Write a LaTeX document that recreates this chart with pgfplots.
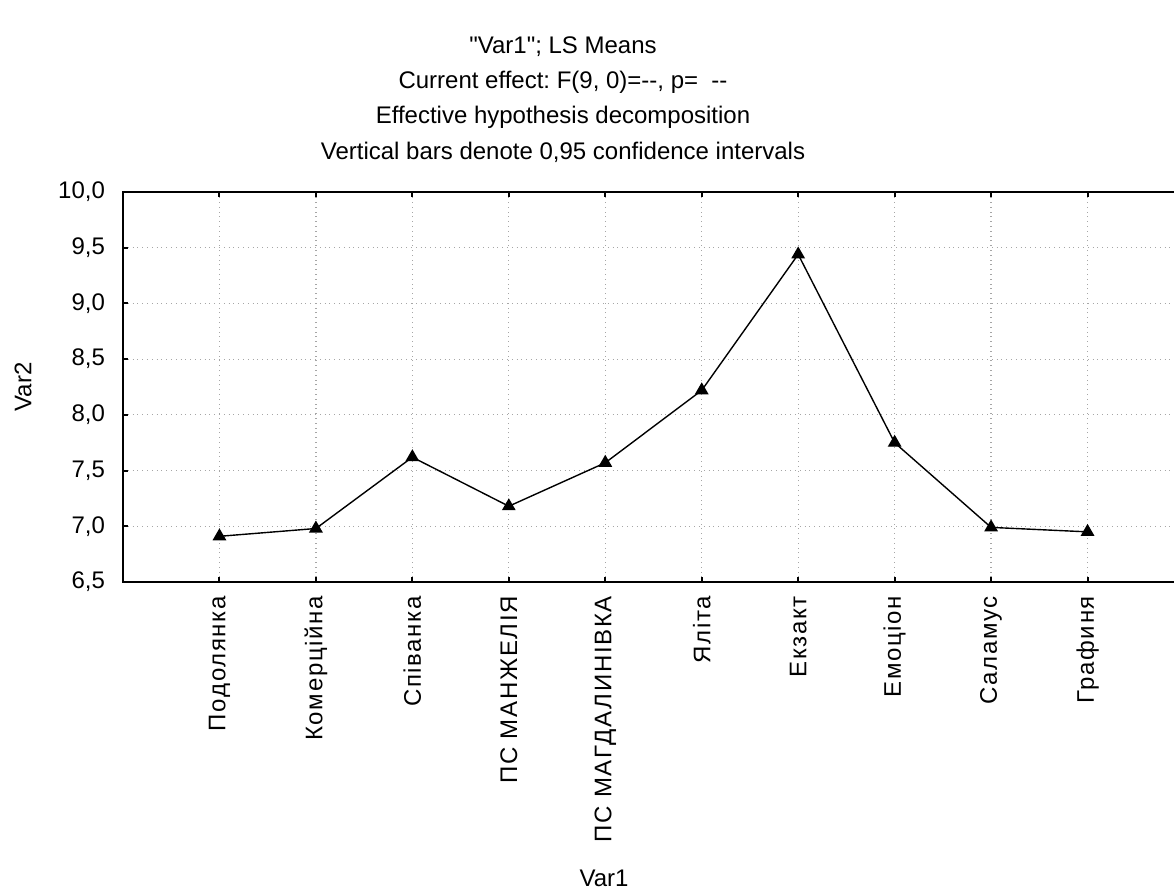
\documentclass[border=0pt]{standalone}
\usepackage{fontspec}
\setmainfont{Liberation Sans}
\newfontfamily\rawfont{Liberation Sans}
\usepackage{pgfplots}
\pgfplotsset{compat=1.18}
\frenchspacing
\begin{document}
\begin{tikzpicture}
\useasboundingbox (-61.5pt,-155pt) rectangle (525.5pt,291pt);
\clip (-61.5pt,-155pt) rectangle (525.5pt,291pt);
\begin{axis}[
  at={(0pt,0pt)}, anchor=south west,
  scale only axis, width=530.5pt, height=195pt,
  xmin=0, xmax=11, ymin=6.5, ymax=10,
  xtick={1,2,3,4,5,6,7,8,9,10},
  xticklabels={Подолянка, Комерційна, Співанка, ПС МАНЖЕЛІЯ, ПС МАГДАЛИНІВКА, Яліта, Екзакт, Емоціон, Саламус, Графиня},
  x tick label style={rotate=90, anchor=east, xshift=-3.5pt, font=\fontsize{12}{14}\selectfont\addfontfeature{LetterSpace=7}},
  ytick={6.5,7,7.5,8,8.5,9,9.5,10},
  ytick pos=left,
  y tick label style={font=\fontsize{12}{14}\selectfont, xshift=-5.5pt},
  /pgf/number format/assume math mode=true,
  yticklabel style={/pgf/number format/.cd, fixed, fixed zerofill, precision=1, use comma},
  grid=major,
  grid style={dotted, gray!70, line width=0.6pt},
  axis line style={line width=1pt},
  tick style={black, line width=1pt},
  major tick length=2.5pt,
]
\addplot[black, line width=0.7pt, mark=triangle*, mark size=3.3pt, mark options={solid}] coordinates {
 (1,6.91) (2,6.98) (3,7.62) (4,7.18) (5,7.57) (6,8.22) (7,9.44) (8,7.75) (9,6.99) (10,6.95)
};
\end{axis}
\begin{scope}[every node/.style={font=\fontsize{12}{14}\selectfont}]
\node[font=\fontsize{12}{14}\rawfont] at (220pt,267.5pt) {"Var1"; LS Means};
\node[font=\fontsize{12}{14}\rawfont] at (220pt,250pt) {Current effect: F(9, 0)=--, p=\ \ --};
\node at (220pt,232.5pt) {Effective hypothesis decomposition};
\node at (220pt,215pt) {Vertical bars denote 0,95 confidence intervals};
\node at (240.5pt,-148pt) {Var1};
\node[rotate=90] at (-50pt,97.5pt) {Var2};
\end{scope}
\end{tikzpicture}
\end{document}
